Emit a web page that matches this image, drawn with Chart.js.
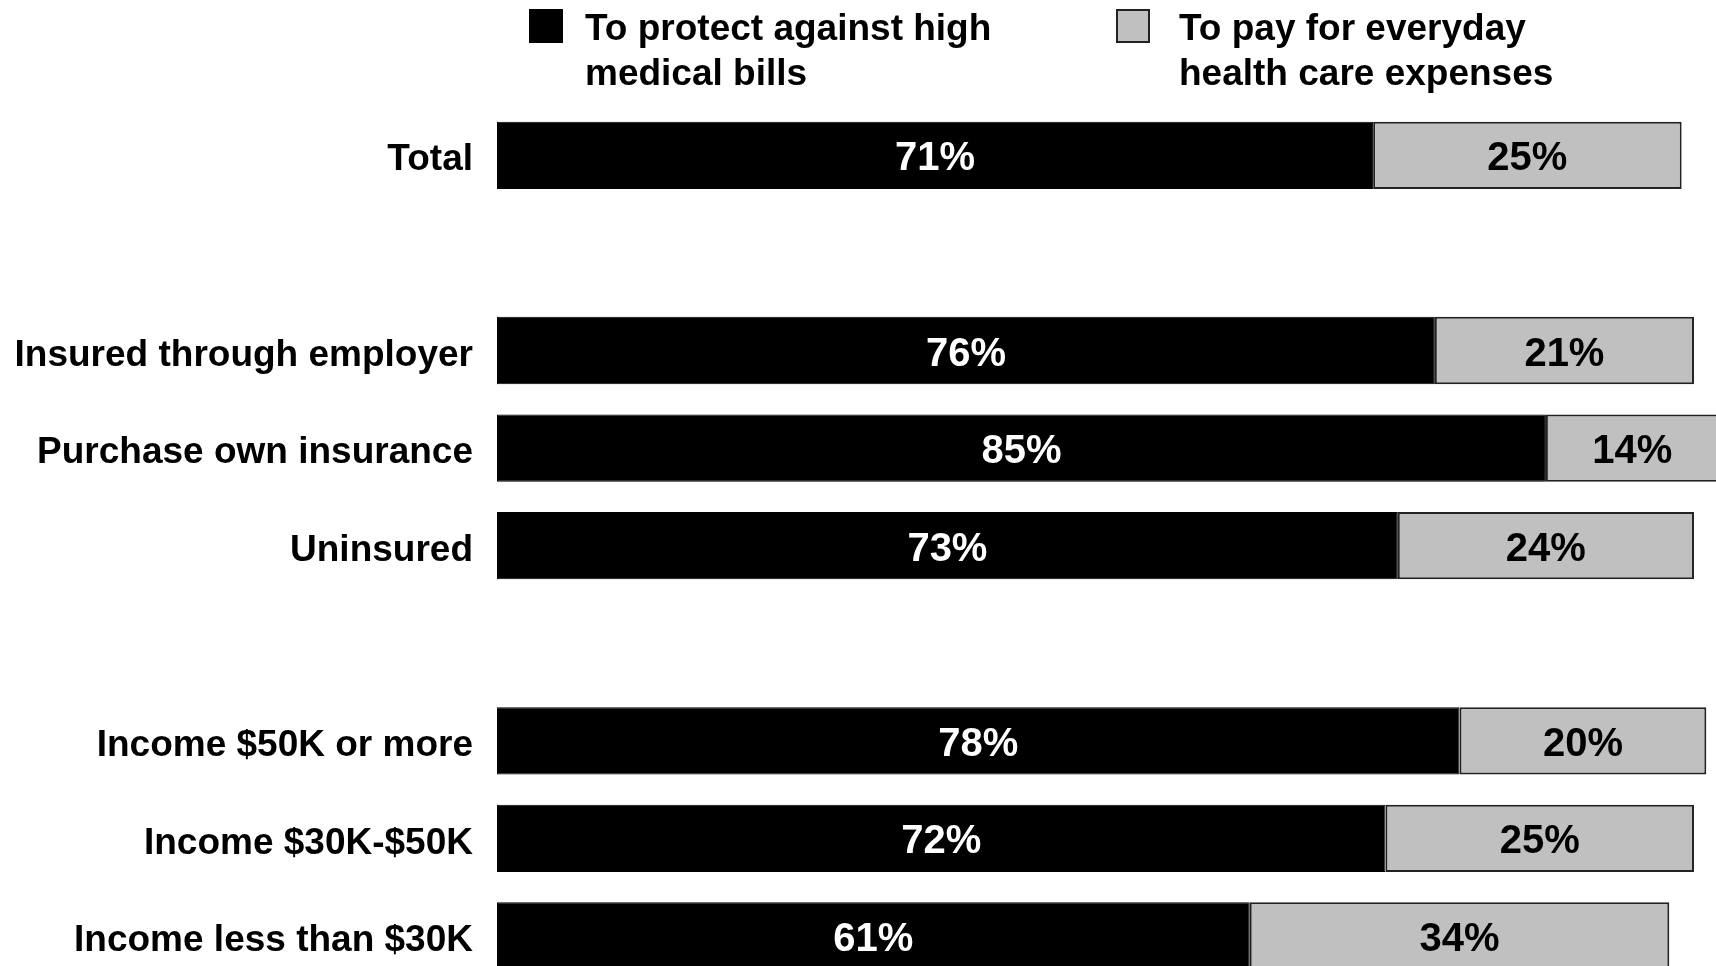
<!DOCTYPE html>
<html>
<head>
<meta charset="utf-8">
<script src="https://cdn.jsdelivr.net/npm/chart.js@4"></script>
<style>
  html, body { margin: 0; padding: 0; background: #ffffff; overflow: hidden; }
  #wrap { width: 1716px; height: 966px; overflow: hidden; position: relative; }
  canvas { display: block; }
</style>
</head>
<body>
<div id="wrap"><canvas id="chart" width="1740" height="1031"></canvas></div>
<script>
// Groups shown down the left side; blank entries leave a gap between sections
const categories = [
  'Total', '',
  'Insured through employer', 'Purchase own insurance', 'Uninsured', '',
  'Income $50K or more', 'Income $30K-$50K', 'Income less than $30K'
];

// Share of respondents (%) by main reason for having health insurance
const protectHighBills = [71, null, 76, 85, 73, null, 78, 72, 61];
const payEverydayCosts = [25, null, 21, 14, 24, null, 20, 25, 34];

const seriesNames = [
  ['To protect against high', 'medical bills'],
  ['To pay for everyday', 'health care expenses']
];

const FONT = '"Liberation Sans", Arial, Helvetica, sans-serif';
const BLACK = '#000000';
const GREY = '#c0c0c0';
const EDGE = '#222222';

// Percent labels centred inside each segment
const segmentLabels = {
  id: 'segmentLabels',
  afterDatasetsDraw(chart) {
    const ctx = chart.ctx;
    ctx.save();
    ctx.font = 'bold 40px ' + FONT;
    ctx.textAlign = 'center';
    ctx.textBaseline = 'middle';
    chart.data.datasets.forEach((ds, di) => {
      const meta = chart.getDatasetMeta(di);
      ctx.fillStyle = di === 0 ? '#ffffff' : '#000000';
      meta.data.forEach((el, i) => {
        const v = ds.data[i];
        if (v === null || v === undefined) return;
        const p = el.getProps(['x', 'y', 'base'], true);
        ctx.fillText(v + '%', (p.x + p.base) / 2, p.y + 4);
      });
    });
    ctx.restore();
  }
};

// Two-line legend across the top
const topLegend = {
  id: 'topLegend',
  afterDraw(chart) {
    const ctx = chart.ctx;
    ctx.save();
    const items = [
      { box: 529, text: 585, fill: BLACK, stroke: BLACK },
      { box: 1116, text: 1179, fill: GREY, stroke: EDGE }
    ];
    items.forEach((it, k) => {
      ctx.fillStyle = it.fill;
      ctx.fillRect(it.box, 9, 34, 34);
      ctx.strokeStyle = it.stroke;
      ctx.lineWidth = 2;
      ctx.strokeRect(it.box + 1, 10, 32, 32);
      ctx.fillStyle = '#000000';
      ctx.font = 'bold 37px ' + FONT;
      ctx.textAlign = 'left';
      ctx.textBaseline = 'alphabetic';
      ctx.fillText(seriesNames[k][0], it.text, 40);
      ctx.fillText(seriesNames[k][1], it.text, 85);
    });
    ctx.restore();
  }
};

new Chart(document.getElementById('chart'), {
  type: 'bar',
  data: {
    labels: categories,
    datasets: [
      {
        label: seriesNames[0].join(' '),
        data: protectHighBills,
        backgroundColor: BLACK,
        borderColor: BLACK,
        borderWidth: 1,
        borderSkipped: false
      },
      {
        label: seriesNames[1].join(' '),
        data: payEverydayCosts,
        backgroundColor: GREY,
        borderColor: EDGE,
        borderWidth: 2,
        borderSkipped: false
      }
    ]
  },
  options: {
    indexAxis: 'y',
    responsive: false,
    animation: false,
    devicePixelRatio: 1,
    layout: { padding: { top: 106.5, right: 9, bottom: 5.6, left: 0 } },
    datasets: { bar: { barPercentage: 1, categoryPercentage: 0.69 } },
    scales: {
      x: {
        stacked: true,
        min: 0,
        max: 100,
        display: false
      },
      y: {
        stacked: true,
        grid: { display: false, drawTicks: false },
        border: { display: false },
        ticks: {
          color: '#000000',
          padding: 24,
          labelOffset: 5,
          font: { family: FONT, size: 37, weight: 'bold' }
        },
        afterFit(scale) { scale.width = 497; }
      }
    },
    plugins: {
      legend: { display: false },
      tooltip: { enabled: false }
    }
  },
  plugins: [segmentLabels, topLegend]
});
</script>
</body>
</html>
